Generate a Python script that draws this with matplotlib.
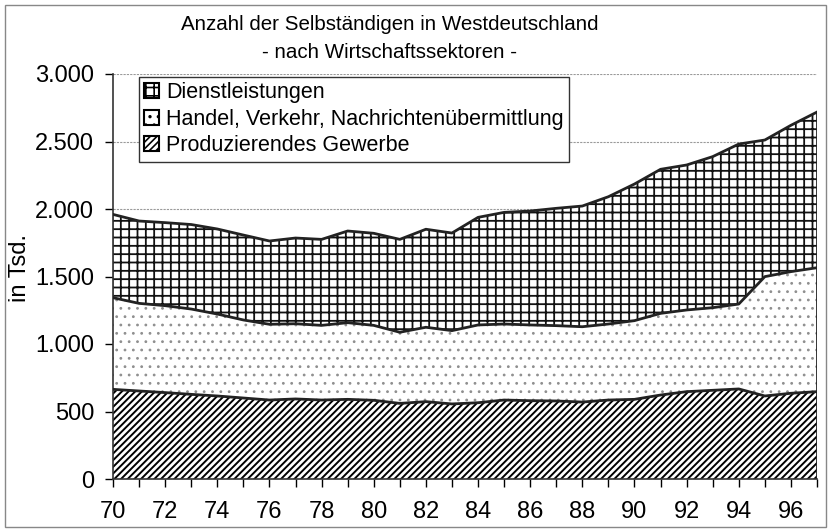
import matplotlib
matplotlib.use("Agg")
import matplotlib.pyplot as plt
import matplotlib.patches as mpatches
from matplotlib.ticker import FuncFormatter
import numpy as np

years = list(range(70, 98))
# Totals (in Tsd.)
total = [1960, 1911, 1899, 1885, 1852, 1807, 1763, 1785, 1775, 1837, 1820, 1775,
         1850, 1822, 1938, 1975, 1985, 2005, 2022, 2091, 2185, 2294, 2326, 2388,
         2481, 2511, 2620, 2718]
# cumulative top of Handel layer
mid = [1343, 1301, 1284, 1259, 1222, 1178, 1146, 1150, 1138, 1158, 1138, 1087,
       1124, 1099, 1141, 1148, 1141, 1136, 1128, 1148, 1173, 1227, 1252, 1269,
       1296, 1499, 1536, 1565]
produzierend = [664, 652, 640, 627, 615, 600, 585, 593, 585, 590, 583, 560,
                573, 556, 565, 585, 580, 578, 570, 585, 590, 622, 647, 657,
                667, 615, 635, 647]
handel = [m - p for m, p in zip(mid, produzierend)]
dienst = [t - m for t, m in zip(total, mid)]

labels = ["Dienstleistungen", "Handel, Verkehr, Nachrichtenübermittlung",
          "Produzierendes Gewerbe"]
title1 = "Anzahl der Selbständigen in Westdeutschland"
title2 = "- nach Wirtschaftssektoren -"
ylabel = "in Tsd."
yticks = [0, 500, 1000, 1500, 2000, 2500, 3000]
xticks = list(range(70, 98, 2))

plt.rcParams['font.family'] = ['Liberation Sans', 'DejaVu Sans']

W, H = 829, 529
fig = plt.figure(figsize=(W / 100, H / 100), dpi=100)
ax = fig.add_axes([113 / W, 1 - 479 / H, (817 - 113) / W, (479 - 74) / H])

x = np.array(years)
p = np.array(produzierend)
h = np.array(handel)
d = np.array(dienst)
l1 = p
l2 = p + h
l3 = p + h + d

DIAG, DOTS, GRID = '/////', '..', '++'

def hatched(y0, y1, hatch, hcolor, hlw):
    plt.rcParams['hatch.color'] = hcolor
    plt.rcParams['hatch.linewidth'] = hlw
    coll = ax.fill_between(x, y0, y1, facecolor='white', edgecolor=hcolor,
                           hatch=hatch, linewidth=0, zorder=2)
    return coll

hatched(0, l1, DIAG, 'black', 1.4)
hatched(l1, l2, DOTS, '#8f8f8f', 0.8)
hatched(l2, l3, GRID, '#111111', 1.3)

for yv in (l1, l2, l3):
    ax.plot(x, yv, color='#222222', lw=2.0, zorder=3, solid_joinstyle='round')
ax.plot([x[-1], x[-1]], [0, l3[-1]], color='#222222', lw=2.0, zorder=3)

ax.set_xlim(70, 97)
ax.set_ylim(0, 3000)
ax.set_yticks(yticks)
ax.set_xticks(xticks)
ax.set_xticks(years, minor=True)
ax.yaxis.set_major_formatter(FuncFormatter(lambda v, _: f"{int(v):,}".replace(",", ".")))
ax.tick_params(axis='y', direction='out', length=6, width=1, pad=7.5, labelsize=17)
ax.tick_params(axis='x', which='both', direction='out', length=6, width=1, pad=10,
               labelsize=17)
ax.tick_params(axis='x', which='minor', labelbottom=False)
ax.set_axisbelow(True)
ax.grid(axis='y', color='#9a9a9a', lw=0.8, ls=(0, (2, 1)), zorder=0)
for s in ('top', 'right'):
    ax.spines[s].set_visible(False)
for s in ('left', 'bottom'):
    ax.spines[s].set_color('#333333')
    ax.spines[s].set_linewidth(1.2)

fig.text(20 / W, 1 - 268 / H, ylabel, rotation=90, ha='center', va='center',
         fontsize=17)
fig.text(390 / W, 1 - 25 / H, title1, ha='center', va='center', fontsize=14.8)
fig.text(390 / W, 1 - 52 / H, title2, ha='center', va='center', fontsize=14.8)

handles = []
for hch in (GRID, DOTS, DIAG):
    handles.append(mpatches.Patch(facecolor='white', edgecolor='black', hatch=hch,
                                  linewidth=1.5))
plt.rcParams['hatch.color'] = 'black'
plt.rcParams['hatch.linewidth'] = 1.2
leg = fig.legend(handles, labels, loc='upper left',
                 bbox_to_anchor=(139 / W, 1 - 77 / H), fontsize=15.5,
                 frameon=True, fancybox=False, framealpha=1, edgecolor='#333333',
                 handlelength=0.7, handleheight=0.7, handletextpad=0.3,
                 borderpad=0.25, labelspacing=0.25, borderaxespad=0)
leg.get_frame().set_linewidth(1.0)

fig.patches.append(mpatches.Rectangle((5 / W, 2 / H), 1 - 8 / W, 1 - 7 / H,
                                      transform=fig.transFigure, fill=False,
                                      edgecolor='#888888', lw=1.0))

fig.savefig("out.png", dpi=100)
